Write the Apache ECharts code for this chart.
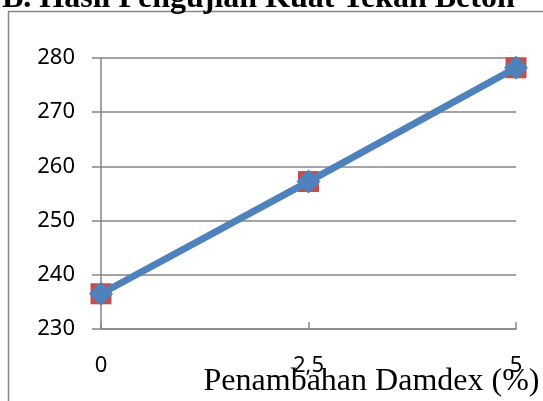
<!DOCTYPE html>
<html>
<head>
<meta charset="utf-8">
<script src="https://cdn.jsdelivr.net/npm/echarts@6/dist/echarts.min.js"></script>
<style>
  html, body { margin: 0; padding: 0; background: #fff; }
  #chart { width: 543px; height: 401px; }
</style>
</head>
<body>
<div id="chart"></div>
<script>
// kadar Damdex (%) dan kuat tekan beton
let categories = ['0', '2,5', '5']
let kuatTekan = [236.5, 257.2, 278.2]
let yTicks = { min: 230, max: 280, interval: 10 }

let chart = echarts.init(document.getElementById('chart'))
chart.setOption({
  animation: false,
  title: {
    text: 'B. Hasil Pengujian Kuat Tekan Beton',
    left: -3,
    top: -22,
    textStyle: {
      fontFamily: 'Liberation Serif',
      fontWeight: 'bold',
      fontSize: 32,
      color: '#000',
    },
  },
  graphic: [
    {
      type: 'rect',
      shape: { x: 8.5, y: 11.5, width: 600, height: 500 },
      style: { fill: 'none', stroke: '#868686', lineWidth: 1.5 },
      z: -1,
    },
  ],
  grid: {
    left: 101,
    right: 27,
    top: 58,
    bottom: 72,
    outerBoundsMode: 'none',
  },
  xAxis: {
    type: 'category',
    boundaryGap: false,
    data: categories,
    name: 'Penambahan Damdex (%)',
    nameLocation: 'middle',
    nameGap: 37,
    nameMoveOverlap: false,
    nameTextStyle: {
      fontFamily: 'Liberation Serif',
      fontSize: 32,
      color: '#000',
      padding: [0, 0, 0, 126],
    },
    axisLine: { lineStyle: { color: '#868686', width: 1.5 } },
    axisTick: { inside: true, length: 7, lineStyle: { color: '#868686', width: 1.5 } },
    splitLine: { show: false },
    axisLabel: {
      margin: 26,
      fontFamily: 'Noto Sans',
      fontSize: 22,
      color: '#000',
    },
  },
  yAxis: {
    type: 'value',
    min: yTicks.min,
    max: yTicks.max,
    interval: yTicks.interval,
    axisLine: { show: true, lineStyle: { color: '#868686', width: 1.5 } },
    axisTick: { show: true, length: 9, lineStyle: { color: '#868686', width: 1.5 } },
    splitLine: { lineStyle: { color: '#868686', width: 1.5 } },
    axisLabel: {
      margin: 26,
      fontFamily: 'Noto Sans',
      fontSize: 22,
      color: '#000',
    },
  },
  series: [
    {
      name: 'kotak',
      type: 'line',
      data: kuatTekan,
      symbol: 'rect',
      symbolSize: 21,
      itemStyle: { color: '#C0504D' },
      lineStyle: { color: '#C0504D', width: 5 },
      z: 2,
    },
    {
      name: 'garis',
      type: 'line',
      data: kuatTekan,
      symbol: 'diamond',
      symbolSize: 24,
      itemStyle: { color: '#4F81BD' },
      lineStyle: { color: '#4F81BD', width: 7 },
      z: 3,
    },
  ],
})
</script>
</body>
</html>
